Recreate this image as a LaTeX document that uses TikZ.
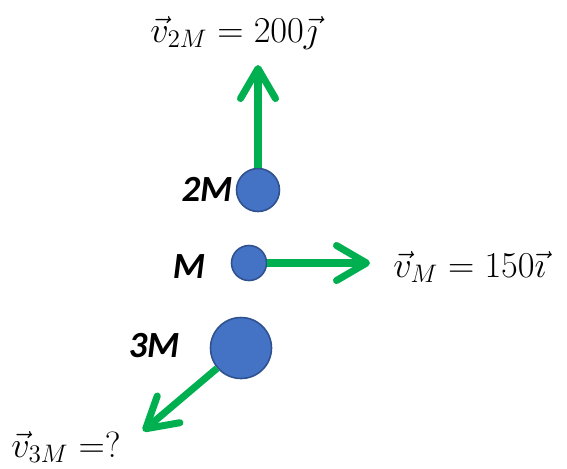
\documentclass[tikz,border=0pt]{standalone}
\usepackage{fontspec}
\setsansfont{Carlito}
\usepackage{tikz}
\usetikzlibrary{arrows.meta,positioning}
\definecolor{ballblue}{HTML}{4472C4}
\definecolor{balledge}{HTML}{2F528F}
\definecolor{velgreen}{HTML}{00B050}
\tikzset{
  ball/.style={
    circle,
    draw=balledge,
    line width=0.9pt,
    fill=ballblue,
    inner sep=0pt
  },
  masslabel/.style={
    inner sep=0pt,
    font=\fontsize{21}{25}\selectfont\sffamily\bfseries\itshape
  },
  vlabel/.style={
    inner sep=0pt,
    font=\fontsize{21}{25}\selectfont
  },
  vel/.style={-{Straight Barb[length=0.6cm, width=0.7cm, round]}, line width=4pt, velgreen}
}
\begin{document}
\begin{tikzpicture}[x=0.02cm, y=-0.02cm]
\useasboundingbox (0,0) rectangle (567,468);
% masses
\node[ball, minimum size=0.86cm] (m2) at (258,190) {};
\node[ball, minimum size=0.70cm] (m1) at (249,263) {};
\node[ball, minimum size=1.22cm] (m3) at (241,348) {};
\node[masslabel] (lab2) at (207,189) {2M};
\node[masslabel] (lab1) at (189,267) {M};
\node[masslabel] (lab3) at (154,346) {3M};
% velocities
\coordinate (tip2) at (258,65);
\coordinate (tip1) at (370,263);
\coordinate (tip3) at (143,431);
\draw[vel] (m2) -- (tip2);
\draw[vel] (m1) -- (tip1);
\draw[vel] (m3) -- (tip3);
\node[vlabel, anchor=base] (v2) at (234,42) {$\vec{v}_{2M}=200\vec{\jmath}$};
\node[vlabel, anchor=base west] (v1) at (393,277) {$\vec{v}_{M}=150\vec{\imath}$};
\node[vlabel, anchor=base west] (v3) at (11,457) {$\vec{v}_{3M}=?$};
\end{tikzpicture}
\end{document}
